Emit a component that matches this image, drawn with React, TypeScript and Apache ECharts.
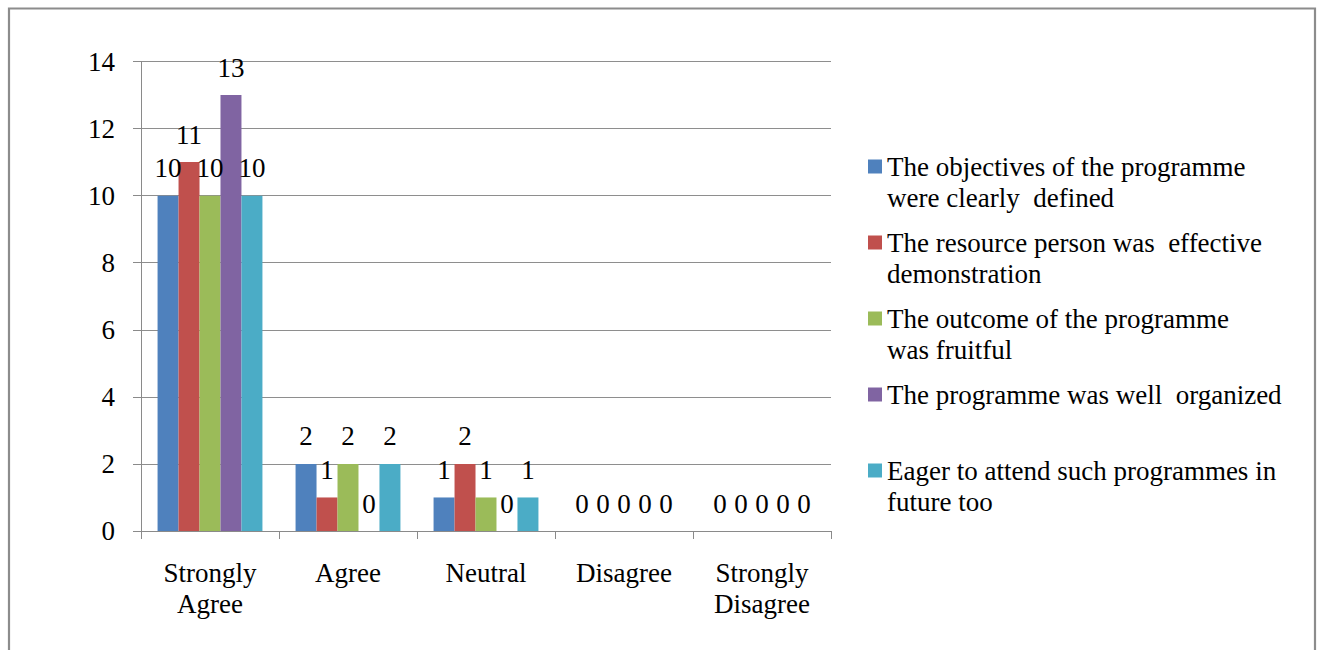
import React, { useEffect, useRef } from "react";
import * as echarts from "echarts";

const categories = ["Strongly\nAgree", "Agree", "Neutral", "Disagree", "Strongly\nDisagree"];
const seriesNames = [
  "The objectives of the programme were clearly defined",
  "The resource person was effective demonstration",
  "The outcome of the programme was fruitful",
  "The programme was well organized",
  "Eager to attend such programmes in future too",
];
const legendLines = [
  ["The objectives of the programme", "were clearly  defined"],
  ["The resource person was  effective", "demonstration"],
  ["The outcome of the programme", "was fruitful"],
  ["The programme was well  organized", " "],
  ["Eager to attend such programmes in", "future too"],
];
const objectivesValues = [10, 2, 1, 0, 0];
const resourceValues = [11, 1, 2, 0, 0];
const outcomeValues = [10, 2, 1, 0, 0];
const organizedValues = [13, 0, 0, 0, 0];
const eagerValues = [10, 2, 1, 0, 0];
const yTicks = { min: 0, max: 14, interval: 2 };

const colors = ["#4F81BD", "#C0504D", "#9BBB59", "#8064A2", "#4BACC6"];
const FONT = "Liberation Serif, Times New Roman, serif";

export default function App() {
  const ref = useRef<HTMLDivElement>(null);
  useEffect(() => {
    if (!ref.current) return;
    const chart = echarts.init(ref.current, undefined, { renderer: "svg" });
    const values = [objectivesValues, resourceValues, outcomeValues, organizedValues, eagerValues];
    const fs = 27;
    chart.setOption({
      animation: false,
      backgroundColor: "#ffffff",
      textStyle: { fontFamily: FONT, color: "#000" },
      graphic: [
        {
          type: "rect",
          shape: { x: 9, y: 8.5, width: 1306, height: 700 },
          style: { fill: "none", stroke: "#8c8c8c", lineWidth: 2.2 },
          silent: true,
          z: -10,
        },
      ],
      grid: { left: 141, right: 492, top: 61.5, bottom: 119, containLabel: false },
      legend: {
        orient: "vertical",
        left: 868,
        top: 120,
        padding: 0,
        itemGap: -17,
        itemWidth: 14,
        itemHeight: 14,
        icon: "rect",
        selectedMode: false,
        data: seriesNames,
        formatter: (name: string) => {
          const i = seriesNames.indexOf(name);
          return " \n" + legendLines[i].join("\n");
        },
        textStyle: { fontFamily: FONT, fontSize: fs, lineHeight: 31, color: "#000" },
      },
      xAxis: {
        type: "category",
        data: categories,
        axisLine: { lineStyle: { color: "#8a8a8a", width: 1 } },
        axisTick: { show: true, length: 8, lineStyle: { color: "#8a8a8a" } },
        axisLabel: {
          fontFamily: FONT,
          fontSize: fs,
          lineHeight: 31,
          color: "#000",
          margin: 26,
          interval: 0,
        },
      },
      yAxis: {
        type: "value",
        min: yTicks.min,
        max: yTicks.max,
        interval: yTicks.interval,
        axisLine: { show: true, lineStyle: { color: "#8a8a8a", width: 1 } },
        axisTick: { show: true, length: 8, lineStyle: { color: "#8a8a8a" } },
        axisLabel: { fontFamily: FONT, fontSize: fs, color: "#000", margin: 26 },
        splitLine: { show: true, lineStyle: { color: "#8e8e8e", width: 1 } },
      },
      series: seriesNames.map((name, i) => ({
        name,
        type: "bar",
        data: values[i],
        barGap: "0%",
        barCategoryGap: "24%",
        itemStyle: { color: colors[i] },
        label: {
          show: true,
          position: "top",
          distance: 15,
          fontFamily: FONT,
          fontSize: fs,
          lineHeight: 25,
          color: "#000",
        },
      })),
    });
    return () => chart.dispose();
  }, []);
  return (
    <div
      ref={ref}
      style={{ position: "absolute", left: 0, top: 0, width: 1323, height: 650 }}
    />
  );
}
